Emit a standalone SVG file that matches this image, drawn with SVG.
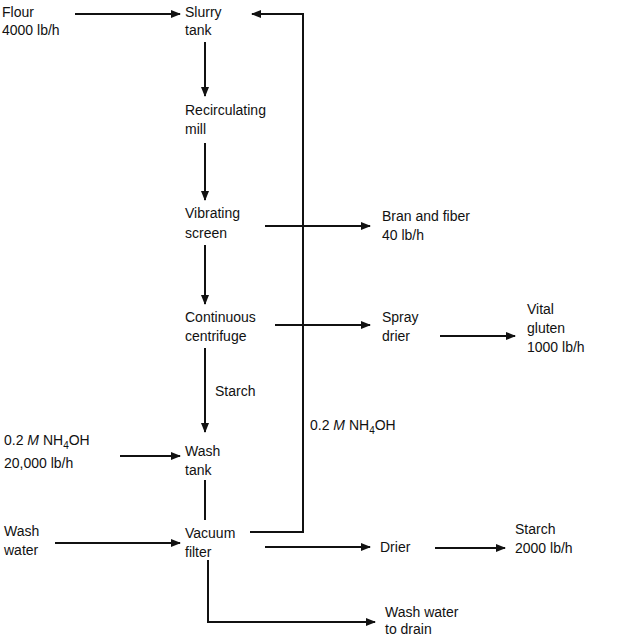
<svg xmlns="http://www.w3.org/2000/svg" width="619" height="640" viewBox="0 0 619 640">
<defs><marker id="a" markerWidth="10" markerHeight="8" refX="9" refY="4" orient="auto" markerUnits="userSpaceOnUse"><path d="M0,0 L10,4 L0,8 z" fill="#111"/></marker></defs>
<style>text{font-family:"Liberation Sans",Arial,sans-serif;font-size:14px;fill:#111}.c line,.c polyline{stroke:#111;stroke-width:2;fill:none}.r{marker-end:url(#a)}</style>
<rect width="619" height="640" fill="#fff"/>
<g class="c">
<line class="r" x1="75" y1="14" x2="180" y2="14"/>
<polyline class="r" points="250,532 303,532 303,14 252,14"/>
<line class="r" x1="205" y1="42" x2="205" y2="96"/>
<line class="r" x1="205" y1="143" x2="205" y2="200"/>
<line class="r" x1="205" y1="245" x2="205" y2="304"/>
<line class="r" x1="205" y1="348" x2="205" y2="432"/>
<line x1="205" y1="480" x2="205" y2="520"/>
<polyline class="r" points="208,560 208,622 375,622"/>
<line class="r" x1="265" y1="226" x2="370" y2="226"/>
<line class="r" x1="275" y1="325" x2="370" y2="325"/>
<line class="r" x1="440" y1="336" x2="515" y2="336"/>
<line class="r" x1="120" y1="456" x2="180" y2="456"/>
<line class="r" x1="55" y1="543" x2="180" y2="543"/>
<line class="r" x1="265" y1="547" x2="370" y2="547"/>
<line class="r" x1="435" y1="548" x2="505" y2="548"/>
</g>
<g id="flour"><text x="2" y="17">Flour</text><text x="2" y="35">4000 lb/h</text></g>
<g id="slurry"><text x="185" y="17">Slurry</text><text x="185" y="35">tank</text></g>
<g id="mill"><text x="185" y="115">Recirculating</text><text x="185" y="134">mill</text></g>
<g id="screen"><text x="185" y="218">Vibrating</text><text x="185" y="238">screen</text></g>
<g id="bran"><text x="382" y="221">Bran and fiber</text><text x="382" y="240">40 lb/h</text></g>
<g id="centrifuge"><text x="185" y="322">Continuous</text><text x="185" y="341">centrifuge</text></g>
<g id="spray"><text x="382" y="322">Spray</text><text x="382" y="341">drier</text></g>
<g id="gluten"><text x="527" y="314">Vital</text><text x="527" y="333">gluten</text><text x="527" y="352">1000 lb/h</text></g>
<text x="215" y="396">Starch</text>
<text x="310" y="430">0.2 <tspan font-style="italic">M</tspan> NH<tspan font-size="10" dy="4">4</tspan><tspan dy="-4">OH</tspan></text>
<g id="nh4oh"><text x="4" y="445">0.2 <tspan font-style="italic">M</tspan> NH<tspan font-size="10" dy="4">4</tspan><tspan dy="-4">OH</tspan></text><text x="4" y="468">20,000 lb/h</text></g>
<g id="washtank"><text x="185" y="456">Wash</text><text x="185" y="475">tank</text></g>
<g id="washwater"><text x="4" y="536">Wash</text><text x="4" y="555">water</text></g>
<g id="filter"><text x="185" y="538">Vacuum</text><text x="185" y="557">filter</text></g>
<g id="drier"><text x="380" y="552">Drier</text></g>
<g id="starch"><text x="515" y="534">Starch</text><text x="515" y="553">2000 lb/h</text></g>
<g id="drain"><text x="385" y="617">Wash water</text><text x="385" y="634">to drain</text></g>
</svg>
